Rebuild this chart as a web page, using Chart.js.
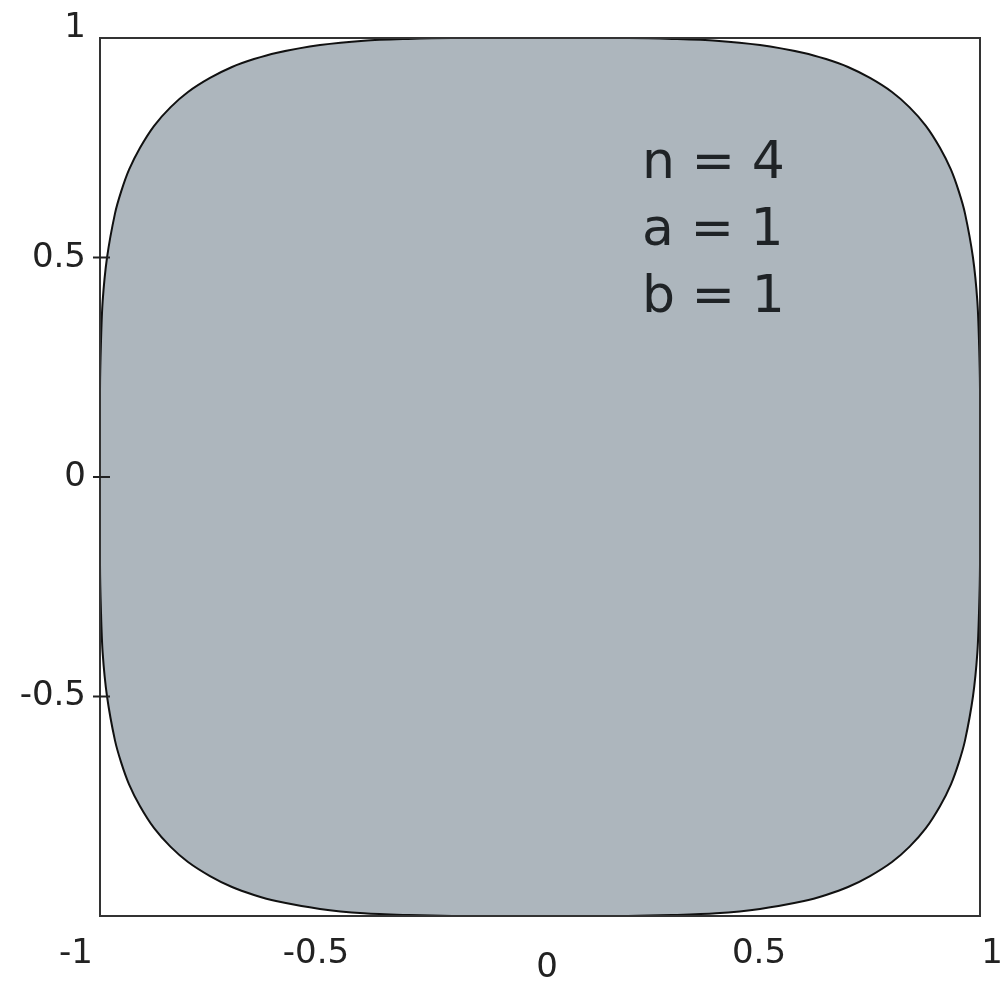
<!DOCTYPE html>
<html>
<head>
<meta charset="utf-8">
<script src="https://cdn.jsdelivr.net/npm/chart.js@4"></script>
<style>
    html, body { margin: 0; padding: 0; background: #fff; }
    canvas { display: block; }
</style>
</head>
<body>
<canvas id="chart-shape" width="1000" height="987"></canvas>
<script>
// superellipse outline, clockwise from the top
const shapeX = [
    0, 0.2, 0.3, 0.4, 0.5, 0.6, 0.65, 0.7, 0.75, 0.8, 0.84, 0.877, 0.909, 0.934, 0.952, 0.966, 0.984, 0.994, 0.998, 1.0, 1,
    1.0, 0.998, 0.994, 0.984, 0.966, 0.952, 0.934, 0.909, 0.877, 0.84, 0.8, 0.75, 0.7, 0.65, 0.6, 0.5, 0.4, 0.3, 0.2, 0,
    -0.2, -0.3, -0.4, -0.5, -0.6, -0.65, -0.7, -0.75, -0.8, -0.84, -0.877, -0.909, -0.934, -0.952, -0.966, -0.984, -0.994, -0.998, -1.0, -1,
    -1.0, -0.998, -0.994, -0.984, -0.966, -0.952, -0.934, -0.909, -0.877, -0.84, -0.8, -0.75, -0.7, -0.65, -0.6, -0.5, -0.4, -0.3, -0.2, 0
];
const shapeY = [
    1, 1.0, 0.998, 0.994, 0.984, 0.966, 0.952, 0.934, 0.909, 0.877, 0.842, 0.8, 0.75, 0.7, 0.65, 0.6, 0.5, 0.4, 0.3, 0.2, 0,
    -0.2, -0.3, -0.4, -0.5, -0.6, -0.65, -0.7, -0.75, -0.8, -0.842, -0.877, -0.909, -0.934, -0.952, -0.966, -0.984, -0.994, -0.998, -1.0, -1,
    -1.0, -0.998, -0.994, -0.984, -0.966, -0.952, -0.934, -0.909, -0.877, -0.842, -0.8, -0.75, -0.7, -0.65, -0.6, -0.5, -0.4, -0.3, -0.2, 0,
    0.2, 0.3, 0.4, 0.5, 0.6, 0.65, 0.7, 0.75, 0.8, 0.842, 0.877, 0.909, 0.934, 0.952, 0.966, 0.984, 0.994, 0.998, 1.0, 1
];

const xTickValues = [-1, -0.5, 0, 0.5, 1];
const xTickLabels = ['-1', '-0.5', '0', '0.5', '1'];
const yTickValues = [1, 0.5, 0, -0.5];
const yTickLabels = ['1', '0.5', '0', '-0.5'];

const infoLines = ['n = 4', 'a = 1', 'b = 1'];
const infoAnchor = { x: 0.232, y: 0.681 };

// small nudges so the labels sit where they do in the original
const xLabelNudge = [[-24, 0], [-4, 0], [7, 14], [-1, 0], [12, 0]];
const yLabelNudge = [[0, -10], [0, 1], [0, 0], [0, 0]];

const points = shapeX.map((x, i) => ({ x: x, y: shapeY[i] }));

const framePlugin = {
    id: 'frame',
    afterDraw(chart) {
        const ctx = chart.ctx;
        const area = chart.chartArea;
        const xs = chart.scales.x;
        const ys = chart.scales.y;

        ctx.save();
        ctx.strokeStyle = '#333';
        ctx.lineWidth = 2;
        ctx.strokeRect(area.left, area.top, area.right - area.left, area.bottom - area.top);

        // y tick marks cross the left edge
        ctx.strokeStyle = '#222';
        ctx.lineWidth = 2;
        yTickValues.forEach(v => {
            if (v === 1) return;
            const py = ys.getPixelForValue(v);
            ctx.beginPath();
            ctx.moveTo(area.left - 7, py);
            ctx.lineTo(area.left + 10, py);
            ctx.stroke();
        });

        ctx.fillStyle = '#222';
        ctx.font = '34px "DejaVu Sans"';
        ctx.textBaseline = 'middle';

        ctx.textAlign = 'right';
        yTickValues.forEach((v, i) => {
            const py = ys.getPixelForValue(v);
            ctx.fillText(yTickLabels[i], area.left - 14 + yLabelNudge[i][0], py + yLabelNudge[i][1]);
        });

        ctx.textAlign = 'center';
        xTickValues.forEach((v, i) => {
            const px = xs.getPixelForValue(v);
            ctx.fillText(xTickLabels[i], px + xLabelNudge[i][0], area.bottom + 38 + xLabelNudge[i][1]);
        });

        // parameter box
        ctx.fillStyle = '#1f2326';
        ctx.font = '52px "DejaVu Sans"';
        ctx.textAlign = 'left';
        ctx.textBaseline = 'alphabetic';
        const tx = xs.getPixelForValue(infoAnchor.x);
        const ty = ys.getPixelForValue(infoAnchor.y);
        infoLines.forEach((t, i) => {
            ctx.fillText(t, tx, ty + i * 67);
        });
        ctx.restore();
    }
};

function drawShape() {
    const ctx = document.getElementById('chart-shape').getContext('2d');

    new Chart(ctx, {
        type: 'scatter',
        data: {
            datasets: [{
                label: 'superellipse',
                data: points,
                showLine: true,
                tension: 0.3,
                pointRadius: 0,
                borderColor: '#111',
                borderWidth: 2,
                backgroundColor: '#adb6bd',
                fill: 'shape',
                clip: false
            }]
        },
        options: {
            responsive: false,
            animation: false,
            devicePixelRatio: 1,
            layout: {
                padding: { left: 100, top: 38, right: 20, bottom: 71 }
            },
            plugins: {
                legend: { display: false },
                tooltip: { enabled: false }
            },
            scales: {
                x: { type: 'linear', min: -1, max: 1, display: false },
                y: { type: 'linear', min: -1, max: 1, display: false }
            }
        },
        plugins: [framePlugin]
    });
}

drawShape();
</script>
</body>
</html>
